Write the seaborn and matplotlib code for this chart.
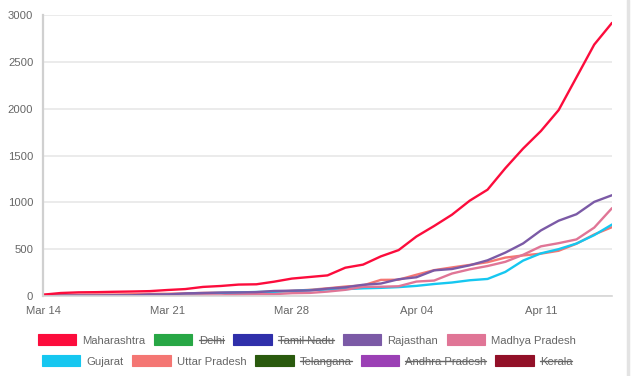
import pandas as pd
import matplotlib
matplotlib.use("Agg")
import matplotlib.pyplot as plt
import matplotlib.dates as mdates
from matplotlib.patches import Patch
from matplotlib.lines import Line2D
import seaborn as sns

# Dates (daily, Mar 14 -> Apr 15)
dates = pd.date_range("2020-03-14", "2020-04-15", freq="D")

# Cumulative cases
maharashtra = [14, 32, 39, 41, 45, 48, 52, 64, 74, 97, 107, 122, 125, 153, 186, 203, 220,
               302, 335, 423, 490, 635, 748, 868, 1018, 1135, 1364, 1574, 1761, 1985,
               2334, 2684, 2916]
rajasthan = [2, 3, 4, 4, 7, 7, 17, 17, 28, 32, 36, 38, 41, 54, 57, 59, 79, 93, 120, 133,
             179, 200, 274, 288, 328, 381, 463, 561, 700, 804, 873, 1005, 1076]
madhya_pradesh = [0, 0, 0, 0, 0, 0, 4, 4, 6, 7, 7, 14, 20, 20, 30, 33, 47, 66, 98, 99,
                  104, 154, 165, 240, 285, 320, 365, 440, 530, 564, 604, 730, 938]
gujarat = [0, 0, 0, 0, 0, 2, 5, 14, 18, 29, 33, 38, 43, 45, 53, 63, 69, 73, 82, 87, 95,
           108, 128, 144, 168, 182, 257, 378, 455, 500, 560, 650, 763]
uttar_pradesh = [12, 13, 13, 15, 16, 19, 23, 24, 27, 33, 35, 38, 41, 45, 55, 66, 82, 101,
                 113, 172, 174, 227, 276, 305, 332, 361, 410, 433, 452, 483, 558, 657, 735]

# Legend order and colours (hidden series are struck through, not drawn)
states = ["Maharashtra", "Delhi", "Tamil Nadu", "Rajasthan", "Madhya Pradesh",
          "Gujarat", "Uttar Pradesh", "Telangana", "Andhra Pradesh", "Kerala"]
colors = ["#fc0c3c", "#28a745", "#2f2faa", "#7b5aa6", "#e07596",
          "#16c7f0", "#f47673", "#2a5a0e", "#9b40b5", "#921028"]
hidden = ["Delhi", "Tamil Nadu", "Telangana", "Andhra Pradesh", "Kerala"]

visible = {
    "Maharashtra": maharashtra,
    "Rajasthan": rajasthan,
    "Madhya Pradesh": madhya_pradesh,
    "Gujarat": gujarat,
    "Uttar Pradesh": uttar_pradesh,
}

df = pd.concat(
    [pd.DataFrame({"date": dates, "cases": v, "state": k}) for k, v in visible.items()],
    ignore_index=True,
)
palette = dict(zip(states, colors))

sns.set_theme(style="white")
plt.rcParams["font.family"] = ["Liberation Sans", "DejaVu Sans"]
txt = "#666666"
fs = 8.1

fig = plt.figure(figsize=(6.33, 3.76), dpi=100)
ax = fig.add_axes([43 / 633, 1 - 296 / 376, (612 - 43) / 633, (296 - 15) / 376])

# draw in reverse so Maharashtra sits on top
order = list(visible.keys())[::-1]
for name in order:
    sub = df[df["state"] == name]
    sns.lineplot(data=sub, x="date", y="cases", color=palette[name], lw=1.7, ax=ax,
                 legend=False)

ax.set_xlim(dates[0], dates[-1])
ax.set_ylim(0, 3000)
ax.set_yticks(range(0, 3001, 500))
ax.set_xticks(pd.to_datetime(["2020-03-14", "2020-03-21", "2020-03-28",
                              "2020-04-04", "2020-04-11"]))
ax.xaxis.set_major_formatter(mdates.DateFormatter("%b %d"))
ax.set_xlabel("")
ax.set_ylabel("")
ax.grid(axis="y", color="#e8e8e8", lw=1.2)
ax.grid(axis="x", visible=False)
ax.tick_params(axis="both", length=0, labelsize=fs, labelcolor=txt)
ax.tick_params(axis="y", pad=7)
ax.tick_params(axis="x", pad=7)
for s in ["top", "right"]:
    ax.spines[s].set_visible(False)
ax.spines["left"].set_color("#d0d0d0")
ax.spines["left"].set_linewidth(1.6)
ax.spines["bottom"].set_color("#d6d6d6")
ax.spines["bottom"].set_linewidth(1.2)

# Chart.js style legend: two centred rows
rows = [states[:5], states[5:]]
row_y = [1 - 340 / 376, 1 - 361 / 376]
legends = []
for names, y in zip(rows, row_y):
    handles = [Patch(facecolor=palette[n], edgecolor=palette[n], lw=0.8) for n in names]
    leg = fig.legend(handles, names, loc="center", bbox_to_anchor=(307 / 633, y),
                     ncol=5, frameon=False, fontsize=fs, handlelength=3.4,
                     handleheight=1.05, handletextpad=0.55, columnspacing=0.8,
                     borderpad=0, labelcolor=txt)
    legends.append(leg)

# strike through hidden series labels
fig.canvas.draw()
renderer = fig.canvas.get_renderer()
inv = fig.transFigure.inverted()
for leg in legends:
    for t in leg.get_texts():
        if t.get_text() in hidden:
            bb = t.get_window_extent(renderer).transformed(inv)
            ym = bb.y0 + (bb.y1 - bb.y0) * 0.56
            fig.add_artist(Line2D([bb.x0, bb.x1], [ym, ym], color=txt, lw=1.0,
                                  transform=fig.transFigure))

# container border on the right
fig.add_artist(Line2D([628 / 633, 628 / 633], [0, 1], color="#e3e3e3", lw=2.5,
                      transform=fig.transFigure))

fig.savefig("out.png", dpi=100)
